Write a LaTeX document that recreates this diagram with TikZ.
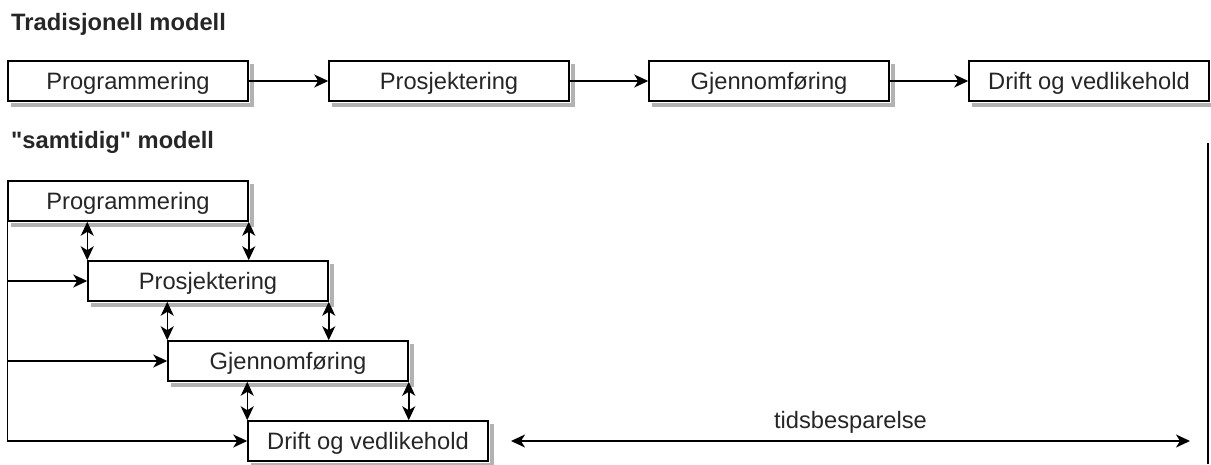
\documentclass[tikz,border=0pt]{standalone}
\usepackage{fontspec}
\setmainfont{Liberation Sans}[Ligatures=TeXOff]
\usetikzlibrary{arrows.meta,calc}

\tikzset{
  phase/.style={draw=black, line width=1.5pt, fill=white,
    minimum width=240pt, minimum height=40pt, inner sep=0pt,
    text height=17pt, text depth=0pt, text=black!85,
    font=\fontsize{23.7}{28}\selectfont},
  title/.style={anchor=base west, inner sep=0pt, text=black!85,
    font=\fontsize{23.7}{28}\selectfont\bfseries},
  tip/.tip={Stealth[length=14pt,width=13pt,inset=4pt]},
  flow/.style={line width=1.5pt, -tip},
  both/.style={line width=1.5pt, tip-tip},
  plain/.style={line width=1.5pt},
  boxshadow/.style={fill=black!30, draw=none}
}

\begin{document}
\begin{tikzpicture}[x=1pt,y=-1pt]
  \useasboundingbox (0,0) rectangle (1211,464);

  % headings
  \node[title] (h1) at (11,30) {Tradisjonell modell};
  \node[title] (h2) at (11,148) {"samtidig" modell};

  % sequential model
  \node[phase] (a1) at (128,81) {Programmering};
  \node[phase] (a2) at (449,81) {Prosjektering};
  \node[phase] (a3) at (769,81) {Gjennomføring};
  \node[phase] (a4) at (1089,81) {Drift og vedlikehold};

  % concurrent model
  \node[phase] (b1) at (128,201) {Programmering};
  \node[phase] (b2) at (208,281) {Prosjektering};
  \node[phase] (b3) at (288,361) {Gjennomføring};
  \node[phase] (b4) at (368,441) {Drift og vedlikehold};

  % drop shadows: strips along the lower and right edges of each box
  \foreach \n in {a1,a2,a3,a4,b1,b2,b3,b4}{
    \fill[boxshadow] ($(\n.south west)+(4,0.8)$) rectangle ($(\n.south east)+(4.8,4.8)$);
    \fill[boxshadow] ($(\n.north east)+(0.8,4)$) rectangle ($(\n.south east)+(4.8,4.8)$);
  }

  \draw[flow] (a1) -- (a2);
  \draw[flow] (a2) -- (a3);
  \draw[flow] (a3) -- (a4);

  % two-way links between overlapping phases
  \draw[both] (b2.north west |- b1.south) -- (b2.north west);
  \draw[both] (b1.south east) -- (b1.south east |- b2.north);
  \draw[both] (b3.north west |- b2.south) -- (b3.north west);
  \draw[both] (b2.south east) -- (b2.south east |- b3.north);
  \draw[both] (b4.north west |- b3.south) -- (b4.north west);
  \draw[both] (b3.south east) -- (b3.south east |- b4.north);

  % feed lines from the left
  \draw[flow] (b1.south west) |- (b4.west);
  \draw[flow] (b1.south west |- b2.west) -- (b2.west);
  \draw[flow] (b1.south west |- b3.west) -- (b3.west);

  % time saved
  \coordinate (tL) at (511,441);
  \coordinate (tR) at (1190,441);
  \draw[both] (tL) -- node[above=7pt, inner sep=0pt, text=black!85,
    font=\fontsize{23.7}{28}\selectfont] (ts) {tidsbesparelse} (tR);

  % end marker
  \coordinate (eT) at (1208,143);
  \coordinate (eB) at (1208,464);
  \draw[plain] (eT) -- (eB);
\end{tikzpicture}
\end{document}
